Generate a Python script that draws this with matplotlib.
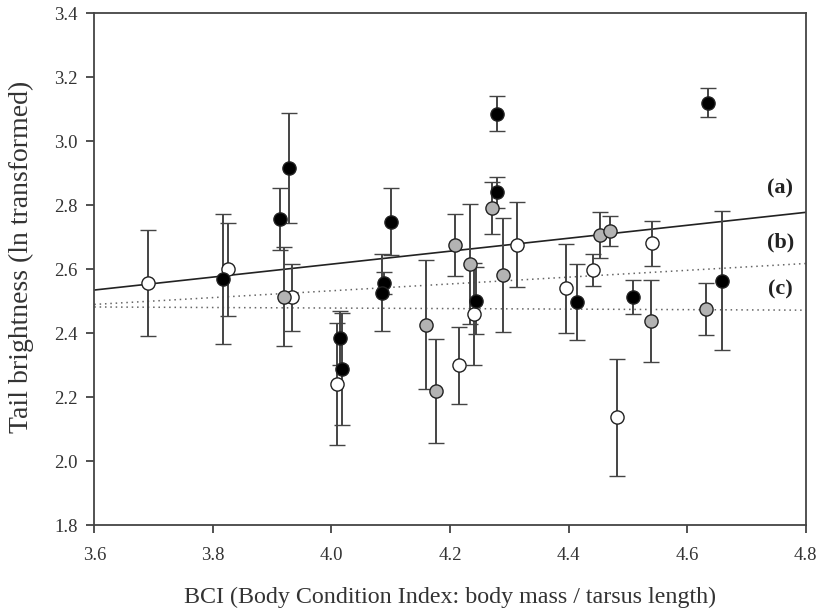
import matplotlib
matplotlib.use("Agg")
import matplotlib.pyplot as plt
import numpy as np

plt.rcParams['font.family'] = ['Liberation Serif', 'DejaVu Serif']

# Black-filled group
black_x = [3.817, 3.913, 3.929, 4.014, 4.017, 4.088, 4.086, 4.100, 4.244, 4.280, 4.280, 4.414, 4.508, 4.636, 4.658]
black_y = [2.569, 2.757, 2.916, 2.386, 2.288, 2.556, 2.527, 2.749, 2.502, 3.086, 2.841, 2.498, 2.512, 3.121, 2.564]
black_e = [0.203, 0.097, 0.172, 0.084, 0.176, 0.034, 0.120, 0.104, 0.105, 0.055, 0.048, 0.118, 0.053, 0.046, 0.218]

# Grey-filled group
grey_x = [3.920, 4.159, 4.176, 4.208, 4.234, 4.270, 4.290, 4.453, 4.470, 4.539, 4.632]
grey_y = [2.514, 2.426, 2.219, 2.676, 2.616, 2.791, 2.582, 2.707, 2.721, 2.439, 2.476]
grey_e = [0.155, 0.202, 0.163, 0.096, 0.187, 0.082, 0.178, 0.072, 0.047, 0.128, 0.082]

# Open (white) group
white_x = [3.690, 3.826, 3.933, 4.010, 4.216, 4.241, 4.313, 4.396, 4.442, 4.481, 4.540]
white_y = [2.558, 2.600, 2.512, 2.240, 2.300, 2.460, 2.676, 2.540, 2.598, 2.137, 2.681]
white_e = [0.166, 0.145, 0.104, 0.191, 0.120, 0.160, 0.133, 0.140, 0.049, 0.183, 0.071]

# Regression lines (endpoints at x = 3.6 and 4.8)
line_x = [3.6, 4.8]
line_a = [2.535, 2.778]
line_b = [2.490, 2.618]
line_c = [2.482, 2.472]

labels = ["(a)", "(b)", "(c)"]
label_y = [2.854, 2.685, 2.538]

fig = plt.figure(figsize=(8.22, 6.16), dpi=100)
ax = fig.add_axes([0.1147, 0.1477, 0.8655, 0.8304])

ax.plot(line_x, line_a, color='#222222', lw=1.2, zorder=2)
ax.plot(line_x, line_b, color='#666666', lw=1.1, ls=(0, (1, 2.5)), zorder=2)
ax.plot(line_x, line_c, color='#666666', lw=1.1, ls=(0, (1, 2.5)), zorder=2)

err_kw = dict(fmt='o', ecolor='#444444', elinewidth=1.4, capsize=6, capthick=1.4,
              markersize=9.5, markeredgecolor='#222222', markeredgewidth=1.0, zorder=3)
ax.errorbar(white_x, white_y, yerr=white_e, markerfacecolor='white', **err_kw)
ax.errorbar(grey_x, grey_y, yerr=grey_e, markerfacecolor='#b3b3b3', **err_kw)
ax.errorbar(black_x, black_y, yerr=black_e, markerfacecolor='black', **err_kw)

for lab, ly in zip(labels, label_y):
    ax.text(4.757, ly, lab, fontsize=16, fontweight='bold', ha='center', va='center', color='#222222')

ax.set_xlim(3.6, 4.8)
ax.set_ylim(1.8, 3.4)
ax.set_xticks(np.arange(3.6, 4.81, 0.2))
ax.set_yticks(np.arange(1.8, 3.41, 0.2))
ax.set_xticklabels([f"{v:.1f}" for v in np.arange(3.6, 4.81, 0.2)])
ax.set_yticklabels([f"{v:.1f}" for v in np.arange(1.8, 3.41, 0.2)])
ax.tick_params(direction='out', length=6, width=1.2, colors='#333333', labelsize=13.5,
               top=False, right=False)
ax.tick_params(axis='x', pad=10)
ax.tick_params(axis='y', pad=6)
for s in ax.spines.values():
    s.set_color('#444444')
    s.set_linewidth(1.3)

ax.set_xlabel("BCI (Body Condition Index: body mass / tarsus length)", fontsize=17.3, color='#333333')
ax.xaxis.set_label_coords(0.5, -0.141)
ax.xaxis.label.set_va('center')
ax.set_ylabel("Tail brightness (ln transformed)", fontsize=20, color='#333333')
ax.yaxis.set_label_coords(-0.102, 0.525)
ax.yaxis.label.set_va('center')

fig.savefig("out.png", dpi=100)
